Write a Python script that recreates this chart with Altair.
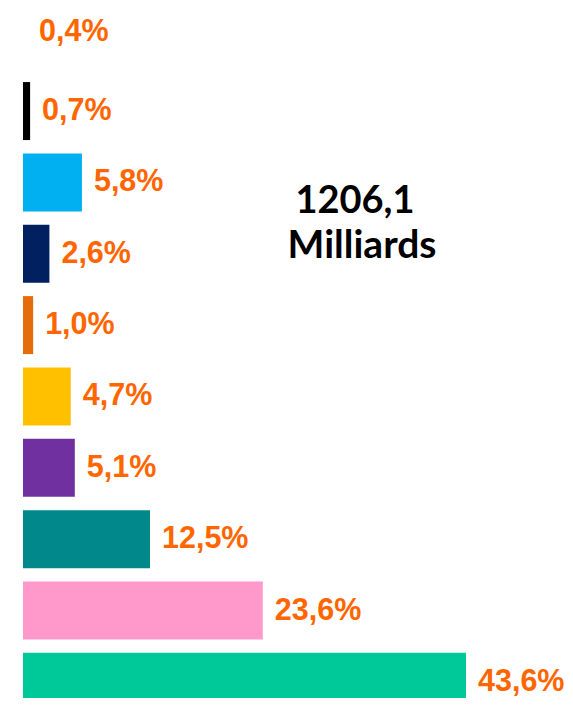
import altair as alt
import pandas as pd

values = [0.4, 0.7, 5.8, 2.6, 1.0, 4.7, 5.1, 12.5, 23.6, 43.6]
labels = ["0,4%", "0,7%", "5,8%", "2,6%", "1,0%", "4,7%", "5,1%", "12,5%", "23,6%", "43,6%"]
colors = ["#FFFFFF", "#000000", "#00B0F0", "#002060", "#E46C0A",
          "#FFC000", "#7030A0", "#00888A", "#FF99CC", "#00C999"]
total_lines = ["1206,1", "Milliards"]

df = pd.DataFrame({
    "idx": list(range(len(values))),
    "value": values,
    "label": labels,
    "color": colors,
})

W, H = 557, 690
px_per_unit = 10.16
x0 = 15
xdom = [-x0 / px_per_unit, (W - x0) / px_per_unit]
row_px = 72.4
y_first = 27.1
ydom = [-y_first / row_px, (H - y_first) / row_px]

x = alt.X("value:Q", scale=alt.Scale(domain=xdom, nice=False, zero=False), axis=None)
y = alt.Y("idx:Q", scale=alt.Scale(domain=ydom, reverse=True, nice=False, zero=False), axis=None)

bars = alt.Chart(df).mark_bar(orient="horizontal", size=58).encode(
    x=x, y=y,
    color=alt.Color("color:N", scale=None),
)

text_style = dict(align="left", baseline="middle", dx=12, font="Liberation Sans",
                  fontWeight="bold", fontSize=30.5, color="#FF6600")

text_top = alt.Chart(df).transform_filter(alt.datum.idx == 0).mark_text(
    dy=-8, **text_style
).encode(x=x, y=y, text="label:N")

text_rest = alt.Chart(df).transform_filter(alt.datum.idx > 0).mark_text(
    **text_style
).encode(x=x, y=y, text="label:N")

t1 = alt.Chart(pd.DataFrame({"t": [total_lines[0]]})).mark_text(
    align="center", baseline="alphabetic", font="Lato", fontWeight="bold",
    fontSize=38, color="#000000",
).encode(x=alt.value(347), y=alt.value(205), text="t:N")

t2 = alt.Chart(pd.DataFrame({"t": [total_lines[1]]})).mark_text(
    align="center", baseline="alphabetic", font="Lato", fontWeight="bold",
    fontSize=39, color="#000000",
).encode(x=alt.value(354), y=alt.value(250), text="t:N")

chart = alt.layer(bars, text_top, text_rest, t1, t2).properties(
    width=W, height=H, padding=0,
    autosize=alt.AutoSizeParams(type="none"),
).configure_view(stroke=None)

chart.save("out.html", embed_options={"renderer": "svg", "actions": False})
